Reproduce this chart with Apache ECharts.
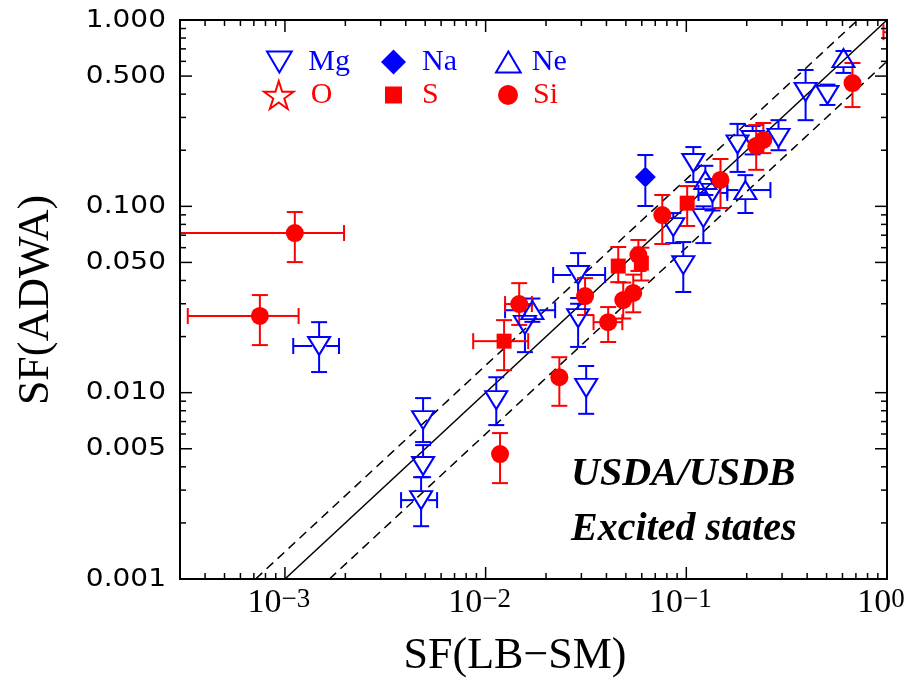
<!DOCTYPE html>
<html>
<head>
<meta charset="utf-8">
<script src="https://cdn.jsdelivr.net/npm/echarts@6/dist/echarts.min.js"></script>
<style>
  html, body { margin: 0; padding: 0; background: #fff; }
  #chart { width: 908px; height: 679px; }
</style>
</head>
<body>
<div id="chart"></div>
<script>
// spectroscopic factors, excited states: SF(LB-SM) vs SF(ADWA)
// each row: [x, y, xLow, xHigh, yLow, yHigh]   (null = no error bar)
var mgRows = [
  [1.48e-3, 0.0178, 1.10e-3, 1.86e-3, 0.0129, 0.0239],
  [4.88e-3, 0.00713, null, null, 0.00543, 0.00935],
  [4.88e-3, 0.00404, null, null, 0.00352, 0.00523],
  [4.77e-3, 0.00265, 3.79e-3, 5.73e-3, 0.00192, 0.00352],
  [0.0113, 0.00912, null, null, 0.0067, 0.0121],
  [0.0157, 0.0231, null, null, 0.0165, 0.0295],
  [0.0289, 0.0251, null, null, 0.0176, 0.0300],
  [0.0289, 0.0428, 0.0217, 0.0394, 0.0322, 0.0561],
  [0.0317, 0.0106, null, null, 0.0077, 0.0139],
  [0.0966, 0.0484, null, null, 0.0347, 0.0643],
  [0.0861, 0.0774, null, null, 0.0635, 0.092],
  [0.1216, 0.0865, null, null, 0.0635, 0.100],
  [0.1084, 0.1708, null, null, 0.135, 0.208],
  [0.135, 0.118, 0.115, 0.160, 0.095, 0.140],
  [0.180, 0.215, null, null, 0.153, 0.277],
  [0.214, 0.227, null, null, 0.19, 0.27],
  [0.288, 0.233, null, null, 0.20, 0.29],
  [0.393, 0.411, null, null, 0.29, 0.539],
  [0.505, 0.396, null, null, 0.35, 0.45]
];
var naRows = [
  [0.0625, 0.1436, null, null, 0.1004, 0.1885]
];
var neRows = [
  [0.0171, 0.0277, 0.0125, 0.0222, 0.024, 0.032],
  [0.1244, 0.1385, null, null, 0.115, 0.165],
  [0.197, 0.1223, 0.16, 0.2625, 0.0921, 0.147],
  [0.607, 0.625, null, null, 0.52, 0.682]
];
var oRows = [];
var sRows = [
  [0.01236, 0.0189, 0.00867, 0.0163, 0.0132, 0.0245],
  [0.0458, 0.0478, null, null, 0.0392, 0.0605],
  [0.0597, 0.0496, null, null, 0.040, 0.060],
  [0.101, 0.104, null, null, 0.0784, 0.1285]
];
var siRows = [
  [1.12e-3, 0.0719, 1e-4, 1.97e-3, 0.0502, 0.0932],
  [7.5e-4, 0.0258, 3.28e-4, 1.17e-3, 0.018, 0.0334],
  [0.0147, 0.0299, 0.0125, 0.017, 0.0231, 0.0387],
  [0.0313, 0.033, null, null, 0.0261, 0.0412],
  [0.0408, 0.0239, 0.0345, 0.048, 0.0187, 0.0288],
  [0.0233, 0.0121, null, null, 0.0085, 0.0155],
  [0.0118, 0.00468, null, null, 0.00327, 0.00607],
  [0.0577, 0.0548, null, null, 0.045, 0.066],
  [0.0485, 0.0314, null, null, 0.025, 0.039],
  [0.0544, 0.0343, null, null, 0.027, 0.043],
  [0.0759, 0.0898, null, null, 0.0628, 0.115],
  [0.148, 0.1385, null, null, 0.098, 0.1795],
  [0.223, 0.211, null, null, 0.157, 0.273],
  [0.242, 0.227, null, null, 0.193, 0.28],
  [0.673, 0.459, null, null, 0.341, 0.588],
  [1.15, 0.86, 0.96, 1.4, 0.7, 1.0]
];

// y = k*x reference lines
var refRatios = [1, 1.4, 0.6];

// axis ticks / labels
var xMajor = [0.001, 0.01, 0.1, 1];
var xExpLabels = ['\u22123', '\u22122', '\u22121', '0'];
var yLabelVals = [1, 0.5, 0.1, 0.05, 0.01, 0.005, 0.001];
var yLabelText = ['1.000', '0.500', '0.100', '0.050', '0.010', '0.005', '0.001'];
var minorMant = [2, 3, 4, 5, 6, 7, 8, 9];
var decades = [1e-4, 1e-3, 1e-2, 1e-1];

var BLUE = '#0000ff', RED = '#ff0000';
var SERIF = '"Liberation Serif", "Times New Roman", serif';
var downTri = 'path://M0,0 L20,0 L10,17 Z';
var upTri = 'path://M10,0 L20,17 L0,17 Z';
var star = 'path://M50,0 L61,35 L98,35 L68,57 L79,91 L50,70 L21,91 L32,57 L2,35 L39,35 Z';

var chart = echarts.init(document.getElementById('chart'));

function errBars(name, rows, color, gx, gy) {
  return {
    name: name + '-err', type: 'custom', z: 2, silent: true, clip: true,
    data: rows.map(function (r) { return [r[0], r[1]]; }),
    renderItem: function (params, api) {
      var r = rows[params.dataIndex];
      var c = api.coord([r[0], r[1]]);
      var cap = 8, kids = [];
      var st = { stroke: color, lineWidth: 2, fill: null };
      function seg(x1, y1, x2, y2) {
        kids.push({ type: 'line', shape: { x1: x1, y1: y1, x2: x2, y2: y2 }, style: st });
      }
      if (r[5] != null) {
        var t = api.coord([r[0], r[5]])[1];
        if (c[1] - t > gy) seg(c[0], c[1] - gy, c[0], t);
        seg(c[0] - cap, t, c[0] + cap, t);
      }
      if (r[4] != null) {
        var b = api.coord([r[0], r[4]])[1];
        if (b - c[1] > gy) seg(c[0], c[1] + gy, c[0], b);
        seg(c[0] - cap, b, c[0] + cap, b);
      }
      if (r[2] != null) {
        var l = api.coord([r[2], r[1]])[0];
        if (c[0] - l > gx) seg(c[0] - gx, c[1], l, c[1]);
        seg(l, c[1] - cap, l, c[1] + cap);
      }
      if (r[3] != null) {
        var h = api.coord([r[3], r[1]])[0];
        if (h - c[0] > gx) seg(c[0] + gx, c[1], h, c[1]);
        seg(h, c[1] - cap, h, c[1] + cap);
      }
      return { type: 'group', children: kids };
    }
  };
}

function markers(name, rows, symbol, size, color, hollow) {
  return {
    name: name, type: 'scatter', z: 3, silent: true,
    data: rows.map(function (r) { return [r[0], r[1]]; }),
    symbol: symbol, symbolSize: size,
    itemStyle: hollow
      ? { color: 'rgba(0,0,0,0)', borderColor: color, borderWidth: 2, opacity: 1 }
      : { color: color, borderWidth: 0, opacity: 1 }
  };
}

// frame, ticks and tick labels
var furniture = {
  type: 'custom', silent: true, clip: false, z: 10,
  data: [[1, 1]],
  renderItem: function (params, api) {
    var cs = params.coordSys;
    var L = cs.x, R = cs.x + cs.width, T = cs.y, B = cs.y + cs.height;
    var kids = [];
    var st = { stroke: '#000', lineWidth: 1.5 };
    function seg(x1, y1, x2, y2) {
      kids.push({ type: 'line', shape: { x1: x1, y1: y1, x2: x2, y2: y2 }, style: st });
    }
    function xTick(v, len) {
      var px = api.coord([v, 1])[0];
      if (px < L - 0.5 || px > R + 0.5) return;
      seg(px, B, px, B - len); seg(px, T, px, T + len);
    }
    function yTick(v, len) {
      var py = api.coord([1, v])[1];
      if (py < T - 0.5 || py > B + 0.5) return;
      seg(L, py, L + len, py); seg(R, py, R - len, py);
    }
    decades.forEach(function (d) {
      minorMant.forEach(function (m) {
        xTick(d * m, 6);
        if (m !== 5) yTick(d * m, 6);
      });
    });
    xMajor.forEach(function (v, i) {
      xTick(v, 12);
      var px = api.coord([v, 1])[0];
      kids.push({
        type: 'text', x: px - 6, y: B + 7,
        style: {
          text: '{b|10}{e|' + xExpLabels[i] + '}',
          align: 'center', verticalAlign: 'top',
          rich: {
            b: { fontFamily: SERIF, fontSize: 34, lineHeight: 34, padding: [9, 0, 0, 0], verticalAlign: 'bottom', fill: '#000' },
            e: { fontFamily: SERIF, fontSize: 27, lineHeight: 27, verticalAlign: 'top', fill: '#000' }
          }
        }
      });
    });
    yLabelVals.forEach(function (v, i) {
      yTick(v, 12);
      var py = api.coord([1, v])[1];
      kids.push({
        type: 'text', x: L - 14, y: py, scaleX: 1.12,
        style: {
          text: yLabelText[i], x: 0, y: 0, align: 'right', verticalAlign: 'middle',
          fontFamily: '"DejaVu Sans", sans-serif', fontSize: 25, fill: '#000'
        }
      });
    });
    kids.push({ type: 'rect', shape: { x: L, y: T, width: R - L, height: B - T }, style: { stroke: '#000', lineWidth: 2, fill: null } });
    return { type: 'group', children: kids };
  }
};

var legendItems = [
  { name: 'Mg', left: 266, top: 47, w: 26, h: 21, color: BLUE, pad: 11 },
  { name: 'Na', left: 381, top: 47, w: 25, h: 25, color: BLUE, pad: 11 },
  { name: 'Ne', left: 495, top: 47, w: 27, h: 21, color: BLUE, pad: 5 },
  { name: 'O', left: 263, top: 80, w: 30, h: 28, color: RED, pad: 12 },
  { name: 'S', left: 385, top: 80, w: 17, h: 17, color: RED, pad: 15 },
  { name: 'Si', left: 498, top: 80, w: 20, h: 20, color: RED, pad: 10 }
];

var series = [];
refRatios.forEach(function (k, i) {
  series.push({
    type: 'line', silent: true, z: 1, symbol: 'none', clip: true,
    data: [[0.001 / k, 0.001], [1 / k, 1]],
    lineStyle: { color: '#000', width: 1.5, type: i === 0 ? 'solid' : [9, 6] }
  });
});
series.push(errBars('Mg', mgRows, BLUE, 7, 9));
series.push(errBars('Na', naRows, BLUE, 10, 10));
series.push(errBars('Ne', neRows, BLUE, 7, 9));
series.push(errBars('S', sRows, RED, 7, 7));
series.push(errBars('Si', siRows, RED, 8, 8));
series.push(markers('Mg', mgRows, downTri, [22, 18], BLUE, true));
series.push(markers('Na', naRows, 'diamond', [21, 21], BLUE, false));
series.push(markers('Ne', neRows, upTri, [22, 18], BLUE, true));
series.push(markers('O', oRows, star, [26, 24], RED, true));
series.push(markers('S', sRows, 'rect', [15, 15], RED, false));
series.push(markers('Si', siRows, 'circle', [18, 18], RED, false));
series.push(furniture);

var option = {
  animation: false,
  backgroundColor: '#fff',
  grid: { left: 180, right: 21, top: 20, bottom: 100, show: false },
  xAxis: {
    type: 'log', logBase: 10, min: 3e-4, max: 1,
    axisLine: { show: false }, axisTick: { show: false },
    axisLabel: { show: false }, splitLine: { show: false }
  },
  yAxis: {
    type: 'log', logBase: 10, min: 0.001, max: 1,
    axisLine: { show: false }, axisTick: { show: false },
    axisLabel: { show: false }, splitLine: { show: false }
  },
  legend: legendItems.map(function (it) {
    return {
      left: it.left, top: it.top, padding: 0, selectedMode: false,
      itemWidth: it.w, itemHeight: it.h,
      data: [{ name: it.name, textStyle: { color: it.color } }],
      textStyle: { fontFamily: SERIF, fontSize: 30, color: it.color, padding: [0, 0, 0, it.pad] }
    };
  }),
  graphic: [
    {
      type: 'text', x: 515, y: 656,
      style: { text: 'SF(LB\u2212SM)', align: 'center', verticalAlign: 'middle', font: '44px ' + SERIF, fill: '#000' }
    },
    {
      type: 'text', x: 36, y: 300, rotation: Math.PI / 2,
      style: { text: 'SF(ADWA)', align: 'center', verticalAlign: 'middle', font: '44px ' + SERIF, fill: '#000' }
    },
    {
      type: 'text', x: 571, y: 475,
      style: { text: 'USDA/USDB', align: 'left', verticalAlign: 'middle', font: 'italic bold 40px ' + SERIF, fill: '#000' }
    },
    {
      type: 'text', x: 571, y: 530,
      style: { text: 'Excited states', align: 'left', verticalAlign: 'middle', font: 'italic bold 40px ' + SERIF, fill: '#000' }
    }
  ],
  series: series
};

chart.setOption(option);
</script>
</body>
</html>
